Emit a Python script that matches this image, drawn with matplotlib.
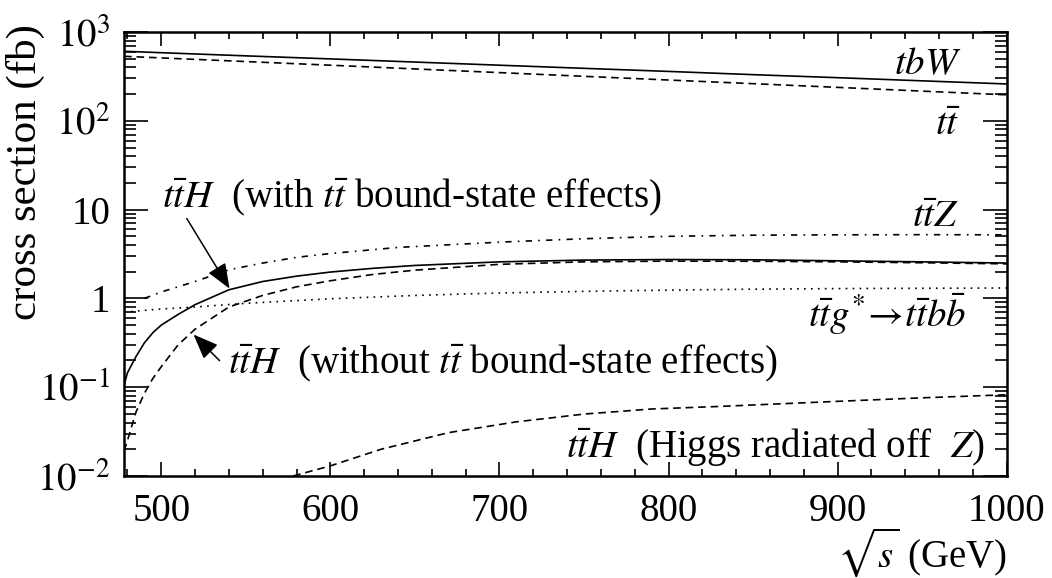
import numpy as np
import matplotlib
matplotlib.use('Agg')
import matplotlib.pyplot as plt
from matplotlib.ticker import FixedLocator, FixedFormatter, MultipleLocator, LogLocator, NullFormatter

plt.rcParams['font.family'] = 'serif'
plt.rcParams['font.serif'] = ['Liberation Serif', 'DejaVu Serif']
plt.rcParams['mathtext.fontset'] = 'stix'
plt.rcParams['lines.scale_dashes'] = False

# tbW (solid)
tbw_x = [478, 500, 550, 600, 650, 700, 750, 800, 850, 900, 950, 1000]
tbw_y = [607, 585, 539, 498, 459, 423, 390, 360, 331, 306, 282, 260]

# t tbar (dashed)
tt_x = [478, 500, 550, 600, 650, 700, 750, 800, 850, 900, 950, 1000]
tt_y = [533, 511, 465, 423, 384, 349, 317, 288, 262, 238, 216, 196]

# t tbar Z (dash-dot)
ttz_x = [490, 500, 520, 540, 560, 580, 600, 640, 700, 750, 800, 850, 900, 950, 1000]
ttz_y = [1.0, 1.18, 1.55, 2.1, 2.5, 2.9, 3.2, 3.75, 4.3, 4.7, 5.0, 5.15, 5.2, 5.22, 5.2]

# t tbar H with bound-state effects (solid)
tth_b_x = [478, 480, 485, 490, 495, 500, 510, 520, 540, 560, 580, 600, 625, 650, 700, 750, 800, 850, 900, 950, 1000]
tth_b_y = [0.105, 0.145, 0.22, 0.315, 0.41, 0.50, 0.66, 0.85, 1.25, 1.55, 1.78, 1.98, 2.18, 2.35, 2.58, 2.70, 2.74, 2.72, 2.65, 2.58, 2.50]

# t tbar H without bound-state effects (dashed)
tth_x = [478, 480, 485, 490, 495, 500, 510, 520, 540, 560, 580, 600, 625, 650, 700, 750, 800, 850, 900, 950, 1000]
tth_y = [0.019, 0.025, 0.052, 0.085, 0.125, 0.17, 0.30, 0.45, 0.80, 1.08, 1.35, 1.58, 1.86, 2.08, 2.42, 2.58, 2.63, 2.62, 2.58, 2.52, 2.45]

# t tbar g* -> t tbar b bbar (dotted)
ttg_x = [478, 500, 520, 550, 600, 650, 700, 750, 800, 850, 900, 950, 1000]
ttg_y = [0.70, 0.76, 0.80, 0.88, 0.99, 1.08, 1.15, 1.20, 1.24, 1.27, 1.29, 1.30, 1.31]

# t tbar H, Higgs radiated off Z (dashed)
hz_x = [578, 600, 630, 670, 710, 750, 790, 830, 900, 950, 1000]
hz_y = [0.0100, 0.0130, 0.0200, 0.0308, 0.0407, 0.0498, 0.0568, 0.0607, 0.0693, 0.0759, 0.0822]

ytick_vals = [1e-2, 1e-1, 1, 10, 1e2, 1e3]
ytick_labels = [r'$10^{-2}$', r'$10^{-1}$', '1', '10', r'$10^{2}$', r'$10^{3}$']
xtick_vals = [500, 600, 700, 800, 900, 1000]

fig = plt.figure(figsize=(10.52, 5.78), dpi=100)
ax = fig.add_axes([0.1179, 0.1765, 0.8391, 0.7681])

lw = 1.2
dash = (0, (5.5, 3.5))
ax.plot(tbw_x, tbw_y, color='k', lw=lw)
ax.plot(tt_x, tt_y, color='k', lw=lw, linestyle=dash)
ax.plot(ttz_x, ttz_y, color='k', lw=lw, linestyle=(0, (4.5, 4.5, 1.2, 4.5)))
ax.plot(tth_b_x, tth_b_y, color='k', lw=lw)
ax.plot(tth_x, tth_y, color='k', lw=lw, linestyle=dash)
ax.plot(ttg_x, ttg_y, color='k', lw=lw, linestyle=(0, (1.2, 3.8)))
ax.plot(hz_x, hz_y, color='k', lw=lw, linestyle=dash)

ax.set_yscale('log')
ax.set_xlim(478, 1000)
ax.set_ylim(1e-2, 1e3)

ax.yaxis.set_major_locator(FixedLocator(ytick_vals))
ax.yaxis.set_major_formatter(FixedFormatter(ytick_labels))
ax.yaxis.set_minor_locator(LogLocator(base=10, subs=np.arange(2, 10), numticks=20))
ax.yaxis.set_minor_formatter(NullFormatter())
ax.xaxis.set_major_locator(FixedLocator(xtick_vals))
ax.xaxis.set_minor_locator(MultipleLocator(20))

ax.tick_params(which='both', direction='in', top=True, right=True, width=1.2, labelsize=28)
ax.tick_params(axis='y', which='major', length=17, pad=10)
ax.tick_params(axis='y', which='minor', length=8.5)
ax.tick_params(axis='x', which='major', length=10, pad=12)
ax.tick_params(axis='x', which='minor', length=5)
for sp in ax.spines.values():
    sp.set_linewidth(1.8)

ax.set_ylabel('cross section (fb)', fontsize=31)
ax.yaxis.set_label_coords(-0.0895, 0.685)
ax.set_xlabel(r'$\sqrt{s}$ (GeV)', fontsize=28, loc='right', labelpad=-3)

fs = 28
ax.text(973, 331, r'$tbW$', fontsize=fs, ha='right', va='baseline')
ax.text(973, 69.5, r'$t\bar{t}$', fontsize=fs, ha='right', va='baseline')
ax.text(972, 6.3, r'$t\bar{t}Z$', fontsize=fs, ha='right', va='baseline')
ax.text(976, 0.48, r'$t\bar{t}g^{*}\!\rightarrow\! t\bar{t}b\bar{b}$', fontsize=fs, ha='right', va='baseline')
ax.text(987, 0.0164, r'$t\bar{t}H$  (Higgs radiated off  $Z$)', fontsize=fs, ha='right', va='baseline')
ax.text(500.2, 10.7, r'$t\bar{t}H$  (with $t\bar{t}$ bound-state effects)', fontsize=fs, ha='left', va='baseline')
ax.text(539.2, 0.142, r'$t\bar{t}H$  (without $t\bar{t}$ bound-state effects)', fontsize=fs, ha='left', va='baseline')

arrow = dict(arrowstyle='-|>,head_length=0.7,head_width=0.28', color='k', lw=1.1,
             shrinkA=0, shrinkB=0, mutation_scale=22)
ax.annotate('', xy=(540.4, 1.29), xytext=(515.1, 7.94), arrowprops=arrow)
ax.annotate('', xy=(519.1, 0.392), xytext=(534.5, 0.199), arrowprops=arrow)

fig.savefig('out.png', dpi=100)
